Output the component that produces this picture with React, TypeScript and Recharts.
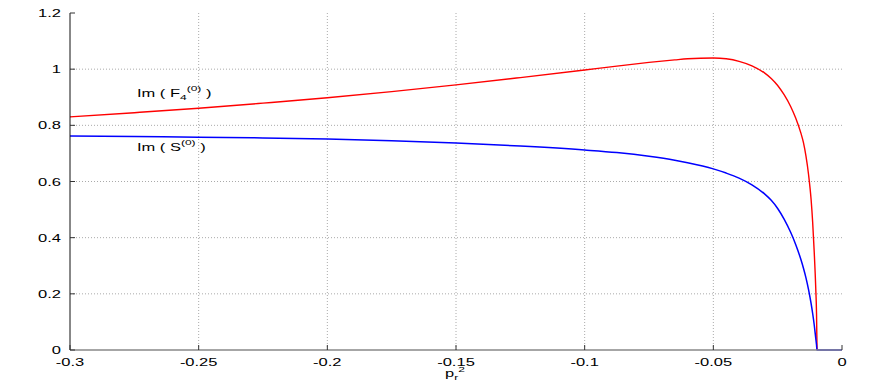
import { LineChart, Line, XAxis, YAxis, CartesianGrid, ReferenceDot } from "recharts"

// p_r^2 sample points
const pr2 = [
  -0.3, -0.275, -0.25, -0.225, -0.2, -0.175, -0.15, -0.125, -0.1, -0.0875, -0.075, -0.065, -0.06, -0.05,
  -0.045, -0.04, -0.035, -0.03, -0.0275, -0.025, -0.0225, -0.02, -0.018, -0.016, -0.015, -0.014, -0.013,
  -0.012, -0.0114, -0.0108, -0.0102, -0.0099, -0.0097, 0,
]

// Im(F4^(0))
const imF4 = [
  0.83, 0.845, 0.861, 0.879, 0.898, 0.92, 0.944, 0.97, 0.997, 1.011, 1.024, 1.033, 1.037, 1.04,
  1.037, 1.028, 1.012, 0.986, 0.967, 0.942, 0.909, 0.868, 0.826, 0.773, 0.739, 0.69, 0.625,
  0.535, 0.455, 0.35, 0.22, 0.13, 0, null,
]

// Im(S^(0))
const imS = [
  0.762, 0.76, 0.758, 0.755, 0.751, 0.745, 0.737, 0.726, 0.712, 0.703, 0.69, 0.676, 0.667, 0.645,
  0.63, 0.612, 0.588, 0.555, 0.533, 0.504, 0.466, 0.42, 0.376, 0.323, 0.292, 0.257, 0.215,
  0.165, 0.13, 0.09, 0.042, 0.018, 0, 0,
]

const xTicks = [-0.3, -0.25, -0.2, -0.15, -0.1, -0.05, 0]
const yTicks = [0, 0.2, 0.4, 0.6, 0.8, 1, 1.2]

const rows = pr2.map((x, i) => ({ x, f: imF4[i], s: imS[i] }))

const font = { fontFamily: "Liberation Sans", fontSize: 11, fill: "#000" }

// gnuplot-style wide lettering
const Wide = ({ x, y, anchor, children, size }: any) => (
  <text
    transform={`translate(${x} ${y}) scale(1.5 1)`}
    textAnchor={anchor || "start"}
    {...font}
    fontSize={size || 11}
  >
    {children}
  </text>
)

const BottomTick = (props: any) => {
  const { x, y, payload } = props
  return (
    <g>
      <line x1={x} x2={x} y1={y} y2={y - 5} stroke="#333" />
      <Wide x={x} y={y + 16} anchor="middle">
        {payload.value}
      </Wide>
    </g>
  )
}

const LeftTick = (props: any) => {
  const { x, y, payload } = props
  return (
    <g>
      <line x1={x} x2={x + 5} y1={y} y2={y} stroke="#333" />
      <Wide x={x - 9} y={y + 4} anchor="end">
        {payload.value}
      </Wide>
    </g>
  )
}

const TopTick = (props: any) => {
  const { x, y } = props
  return <line x1={x} x2={x} y1={y} y2={y + 5} stroke="#333" />
}

const RightTick = (props: any) => {
  const { x, y } = props
  return <line x1={x} x2={x - 5} y1={y} y2={y} stroke="#333" />
}

const curveLabel = (name: string, sub: string | null) => (props: any) => {
  const { viewBox } = props
  return (
    <Wide x={viewBox.x} y={viewBox.y}>
      Im ( {name}
      {sub && <tspan dy={3} fontSize={8}>{sub}</tspan>}
      <tspan dy={sub ? -9 : -6} fontSize={8}>(0)</tspan>
      <tspan dy={6}> )</tspan>
    </Wide>
  )
}

export default function App() {
  return (
    <div style={{ position: "absolute", left: 0, top: 0 }}>
      <LineChart width={872} height={382} data={rows} margin={{ top: 13, right: 30, bottom: 0, left: 0 }}>
        <CartesianGrid
          stroke="#aaa"
          strokeDasharray="1 2"
          horizontalValues={[0.2, 0.4, 0.6, 0.8, 1]}
          verticalValues={[-0.25, -0.2, -0.15, -0.1, -0.05]}
        />
        <XAxis
          dataKey="x"
          type="number"
          domain={[-0.3, 0]}
          ticks={xTicks}
          height={32}
          tickSize={0}
          tickMargin={0}
          tickLine={false}
          axisLine={{ stroke: "#888", strokeWidth: 1.5 }}
          tick={<BottomTick />}
          label={{
            position: "insideBottom",
            content: (p: any) => (
              <Wide x={p.viewBox.x + p.viewBox.width / 2 - 11} y={377}>
                p<tspan dy={3} fontSize={8}>r</tspan>
                <tspan dy={-8} fontSize={8}>2</tspan>
              </Wide>
            ),
          }}
        />
        <XAxis
          xAxisId="top"
          orientation="top"
          dataKey="x"
          type="number"
          domain={[-0.3, 0]}
          ticks={xTicks}
          height={0}
          tickSize={0}
          tickMargin={0}
          tickLine={false}
          axisLine={{ stroke: "#333" }}
          tick={<TopTick />}
        />
        <YAxis
          type="number"
          domain={[0, 1.2]}
          ticks={yTicks}
          width={70}
          tickSize={0}
          tickMargin={0}
          tickLine={false}
          axisLine={{ stroke: "#111" }}
          tick={<LeftTick />}
        />
        <YAxis
          yAxisId="right"
          orientation="right"
          type="number"
          domain={[0, 1.2]}
          ticks={yTicks}
          width={0}
          tickSize={0}
          tickMargin={0}
          tickLine={false}
          axisLine={{ stroke: "#111" }}
          tick={<RightTick />}
        />
        <Line
          type="monotone"
          dataKey="f"
          stroke="#ff0000"
          strokeWidth={1.4}
          dot={false}
          isAnimationActive={false}
        />
        <Line
          type="monotone"
          dataKey="s"
          stroke="#0000ff"
          strokeWidth={1.5}
          dot={false}
          isAnimationActive={false}
        />
        <ReferenceDot x={-0.274} y={0.9} r={0} fill="none" stroke="none" label={{ content: curveLabel("F", "4") }} />
        <ReferenceDot x={-0.274} y={0.707} r={0} fill="none" stroke="none" label={{ content: curveLabel("S", null) }} />
      </LineChart>
    </div>
  )
}
